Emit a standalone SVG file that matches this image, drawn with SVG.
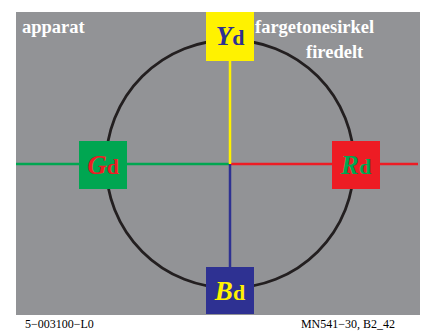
<svg xmlns="http://www.w3.org/2000/svg" width="424" height="332" viewBox="0 0 424 332">
<style>
.t{font-family:"Liberation Serif","Times New Roman",serif;font-weight:bold;fill:#fff;font-size:18.5px}
.lab{font-family:"Liberation Serif","Times New Roman",serif;font-weight:bold}
.big{font-style:italic;font-size:27px}
.small{font-size:22px}
.foot{font-family:"Liberation Serif","Times New Roman",serif;font-size:12px;fill:#000}
</style>
<rect x="0" y="0" width="424" height="332" fill="#fff"/>
<rect x="16" y="12" width="404" height="303" fill="#929396"/>
<circle cx="230" cy="164" r="124" fill="none" stroke="#231f20" stroke-width="2.8"/>
<g id="connectors" stroke-width="2.5">
<line x1="16" y1="164" x2="230" y2="164" stroke="#00a651"/>
<line x1="230" y1="164" x2="418" y2="164" stroke="#ed1c24"/>
<line x1="230" y1="61" x2="230" y2="164" stroke="#fff200"/>
<line x1="230" y1="164" x2="230" y2="267" stroke="#2e3192"/>
</g>
<g id="Yd"><rect x="206" y="12" width="48" height="49" fill="#fff200"/><text class="lab" x="230" y="45" text-anchor="middle" fill="#2e3192"><tspan class="big">Y</tspan><tspan class="small">d</tspan></text></g>
<g id="Gd"><rect x="79" y="141" width="48" height="48" fill="#00a651"/><text class="lab" x="103" y="174" text-anchor="middle" fill="#ed1c24"><tspan class="big">G</tspan><tspan class="small">d</tspan></text></g>
<g id="Rd"><rect x="332" y="141" width="48" height="48" fill="#ed1c24"/><text class="lab" x="356" y="174" text-anchor="middle" fill="#00a651"><tspan class="big">R</tspan><tspan class="small">d</tspan></text></g>
<g id="Bd"><rect x="206" y="267" width="48" height="47" fill="#2e3192"/><text class="lab" x="230" y="300" text-anchor="middle" fill="#fff200"><tspan class="big">B</tspan><tspan class="small">d</tspan></text></g>
<text class="t" x="22" y="33">apparat</text>
<text class="t" x="255" y="33">fargetonesirkel</text>
<text class="t" x="306" y="58">firedelt</text>
<text class="foot" x="25" y="328">5−003100−L0</text>
<text class="foot" x="395" y="328" text-anchor="end">MN541−30, B2_42</text>
</svg>
